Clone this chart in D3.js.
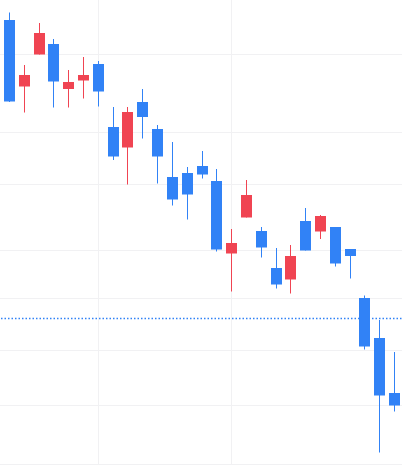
<!DOCTYPE html>
<meta charset="utf-8">
<style>
  body {
    margin: 0;
    background-color: #ffffff;
  }

  .grid line {
    stroke: #f1f1f3;
    stroke-width: 1;
  }
</style>

<body>
  <!-- load the d3.js library -->
  <script src="https://cdn.jsdelivr.net/npm/d3@7"></script>
  <script>

    // candle data (one entry per session)
    var dates = ["05-02", "05-03", "05-06", "05-07", "05-08", "05-09", "05-10", "05-13", "05-14",
      "05-15", "05-16", "05-17", "05-20", "05-21", "05-22", "05-23", "05-24", "05-27",
      "05-28", "05-29", "05-30", "05-31", "06-03", "06-04", "06-05", "06-06", "06-07"];
    var open = [61600, 60270, 60910, 61120, 60220, 60390, 60720, 59460, 59050,
      59960, 59420, 58460, 58540, 58680, 58380, 56930, 57650, 57380,
      56640, 56410, 57580, 57370, 57460, 57020, 56040, 55240, 54140];
    var high = [61750, 60700, 61540, 61220, 60600, 60860, 60780, 59860, 59860,
      60220, 59500, 59160, 58660, 58980, 58620, 57420, 58400, 57460,
      57040, 57100, 57840, 57700, 57460, 57020, 56090, 55600, 54960];
    var low = [59960, 59750, 60910, 59850, 59850, 60030, 59870, 58800, 58310,
      59230, 58330, 57890, 57610, 58430, 56970, 56170, 57650, 56850,
      56230, 56130, 56990, 57220, 56670, 56430, 55010, 52950, 53770];
    var close = [59970, 60500, 61340, 60370, 60360, 60500, 60170, 58870, 59760,
      59660, 58870, 58010, 58110, 58510, 57010, 57140, 58100, 57050,
      56310, 56880, 56990, 57680, 56730, 56880, 55070, 54090, 53890];

    // grid positions and the dotted reference price
    var gridPrices = [60920, 59370, 58330, 57000, 56030, 55010, 53910, 52730];
    var gridDates = ["05-10", "05-23"];
    var refPrice = 55630;

    var width = 402,
      height = 465;

    var upColor = "#f04452",
      downColor = "#3182f6";

    var data = dates.map(function (d, i) {
      return { date: d, o: open[i], h: high[i], l: low[i], c: close[i] };
    });

    // set the ranges
    var x = d3.scaleBand()
      .domain(dates)
      .range([2, width])
      .padding(0);
    var y = d3.scaleLinear()
      .domain([52700, 62000])
      .range([height, 0]);

    var bodyW = 11;
    function left(d) { return Math.round(x(d) + x.bandwidth() / 2 - bodyW / 2); }

    var svg = d3.select("body").append("svg")
      .attr("width", width)
      .attr("height", height);

    // grid lines
    var grid = svg.append("g").attr("class", "grid");
    grid.selectAll("line.h")
      .data(gridPrices)
      .enter().append("line")
      .attr("class", "h")
      .attr("x1", 0)
      .attr("x2", width)
      .attr("y1", function (d) { return Math.round(y(d)) + 0.5; })
      .attr("y2", function (d) { return Math.round(y(d)) + 0.5; });
    grid.selectAll("line.v")
      .data(gridDates)
      .enter().append("line")
      .attr("class", "v")
      .attr("y1", 0)
      .attr("y2", height)
      .attr("x1", function (d) { return left(d) + 5.5; })
      .attr("x2", function (d) { return left(d) + 5.5; });

    // dotted reference line
    svg.append("line")
      .attr("x1", 1)
      .attr("x2", width)
      .attr("y1", Math.round(y(refPrice)) - 0.5)
      .attr("y2", Math.round(y(refPrice)) - 0.5)
      .attr("stroke", downColor)
      .attr("stroke-width", 1.3)
      .style("stroke-dasharray", "1.5, 2");

    // candles
    var candle = svg.selectAll(".candle")
      .data(data)
      .enter().append("g")
      .attr("class", "candle")
      .attr("fill", function (d) { return d.c >= d.o ? upColor : downColor; });

    // wicks
    candle.append("rect")
      .attr("x", function (d) { return left(d.date) + 5; })
      .attr("width", 1)
      .attr("y", function (d) { return y(d.h); })
      .attr("height", function (d) { return y(d.l) - y(d.h); });

    // bodies
    candle.append("rect")
      .attr("x", function (d) { return left(d.date); })
      .attr("width", bodyW)
      .attr("y", function (d) { return y(Math.max(d.o, d.c)); })
      .attr("height", function (d) { return Math.max(1, Math.abs(y(d.o) - y(d.c))); });

  </script>
</body>

</html>
